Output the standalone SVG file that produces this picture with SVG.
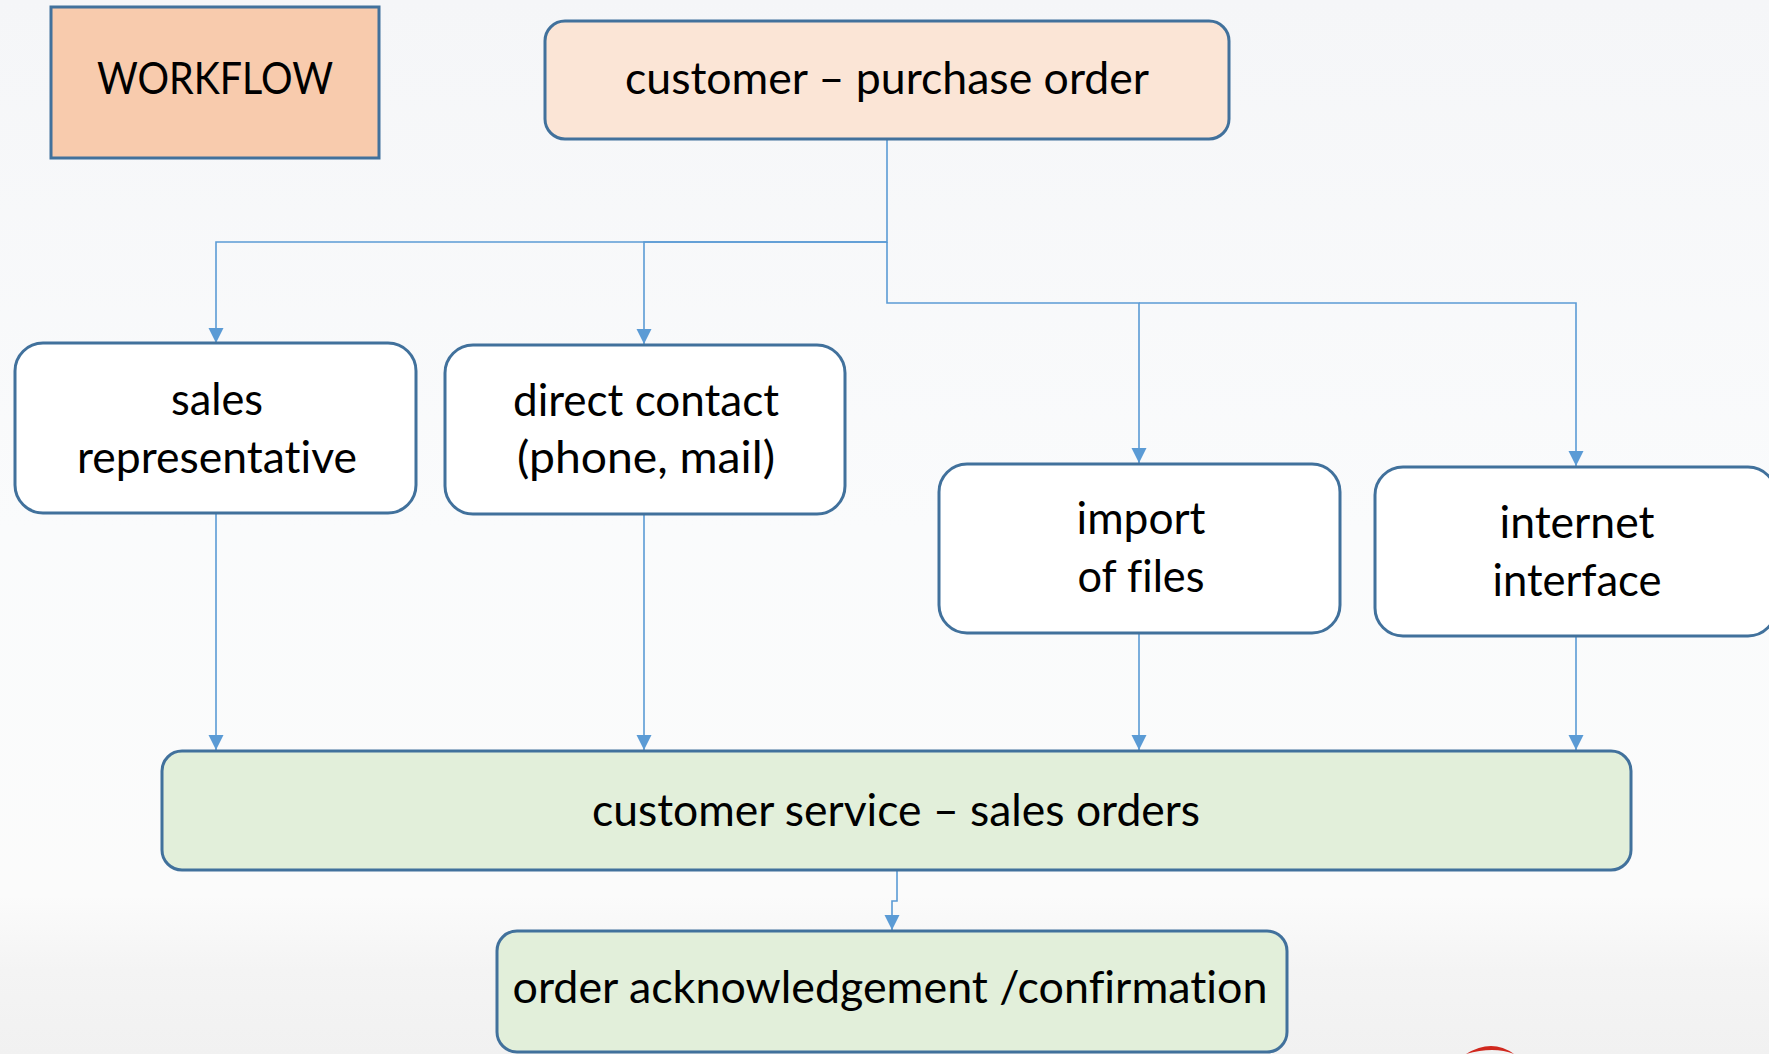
<svg xmlns="http://www.w3.org/2000/svg" width="1769" height="1054" viewBox="0 0 1769 1054">
  <defs>
    <linearGradient id="bg" x1="0" y1="0" x2="0" y2="1">
      <stop offset="0" stop-color="#F5F6F8"/>
      <stop offset="0.5" stop-color="#FAFBFC"/>
      <stop offset="0.85" stop-color="#FBFBFB"/>
      <stop offset="0.92" stop-color="#F4F4F4"/>
      <stop offset="1" stop-color="#F1F1F1"/>
    </linearGradient>
    <marker id="arr" markerUnits="userSpaceOnUse" markerWidth="16" markerHeight="16" refX="15" refY="7.5" orient="auto">
      <path d="M0,0 L15,7.5 L0,15 Z" fill="#5B9BD5"/>
    </marker>
    <style>
      .box { stroke: #41719C; stroke-width: 3; }
      .white { fill: #FFFFFF; }
      .green { fill: #E2EFDA; }
      .t { font-family: Lato, "Open Sans", "Liberation Sans", sans-serif; font-size: 44px; fill: #000; text-anchor: middle; font-variant-ligatures: none; }
      .c { fill: none; stroke: #5B9BD5; stroke-width: 1.6; }
    </style>
  </defs>

  <rect x="0" y="0" width="1769" height="1054" fill="url(#bg)"/>
  <path d="M1466,1054 Q1492,1038 1514,1054 Q1494,1046 1466,1054 Z" fill="#D0281E"/>

  <g id="connectors">
    <path class="c" d="M887,140 V242 H216 V343" marker-end="url(#arr)"/>
    <path class="c" d="M887,242 H644 V344" marker-end="url(#arr)"/>
    <path class="c" d="M887,242 V303 H1139 V463" marker-end="url(#arr)"/>
    <path class="c" d="M1139,303 H1576 V466" marker-end="url(#arr)"/>
    <path class="c" d="M216,513 V750" marker-end="url(#arr)"/>
    <path class="c" d="M644,514 V750" marker-end="url(#arr)"/>
    <path class="c" d="M1139,633 V750" marker-end="url(#arr)"/>
    <path class="c" d="M1576,636 V750" marker-end="url(#arr)"/>
    <path class="c" d="M897,871 V901 H892 V930" marker-end="url(#arr)"/>
  </g>

  <g id="workflow">
    <rect class="box" x="51" y="7" width="328" height="151" fill="#F8CBAD"/>
    <text class="t" x="215" y="94" textLength="236" lengthAdjust="spacingAndGlyphs">WORKFLOW</text>
  </g>

  <g id="purchase-order">
    <rect class="box" x="545" y="21" width="684" height="118" rx="20" fill="#FBE5D6"/>
    <text class="t" x="887" y="94" textLength="524" lengthAdjust="spacingAndGlyphs">customer – purchase order</text>
  </g>

  <g id="sales-rep">
    <rect class="box white" x="15" y="343" width="401" height="170" rx="28"/>
    <text class="t" x="217" y="415" textLength="92" lengthAdjust="spacingAndGlyphs">sales</text>
    <text class="t" x="217" y="473" textLength="280" lengthAdjust="spacingAndGlyphs">representative</text>
  </g>

  <g id="direct-contact">
    <rect class="box white" x="445" y="345" width="400" height="169" rx="28"/>
    <text class="t" x="646" y="416" textLength="266" lengthAdjust="spacingAndGlyphs">direct contact</text>
    <text class="t" x="646" y="473" textLength="258" lengthAdjust="spacingAndGlyphs">(phone, mail)</text>
  </g>

  <g id="import-files">
    <rect class="box white" x="939" y="464" width="401" height="169" rx="28"/>
    <text class="t" x="1141" y="534" textLength="129" lengthAdjust="spacingAndGlyphs">import</text>
    <text class="t" x="1141" y="592" textLength="127" lengthAdjust="spacingAndGlyphs">of files</text>
  </g>

  <g id="internet-interface">
    <rect class="box white" x="1375" y="467" width="401" height="169" rx="28"/>
    <text class="t" x="1577" y="538" textLength="155" lengthAdjust="spacingAndGlyphs">internet</text>
    <text class="t" x="1577" y="596" textLength="169" lengthAdjust="spacingAndGlyphs">interface</text>
  </g>

  <g id="customer-service">
    <rect class="box green" x="162" y="751" width="1469" height="119" rx="20"/>
    <text class="t" x="896" y="826" textLength="608" lengthAdjust="spacingAndGlyphs">customer service – sales orders</text>
  </g>

  <g id="order-ack">
    <rect class="box green" x="497" y="931" width="790" height="121" rx="20"/>
    <text class="t" x="890" y="1003" textLength="755" lengthAdjust="spacingAndGlyphs">order acknowledgement /confirmation</text>
  </g>
</svg>
